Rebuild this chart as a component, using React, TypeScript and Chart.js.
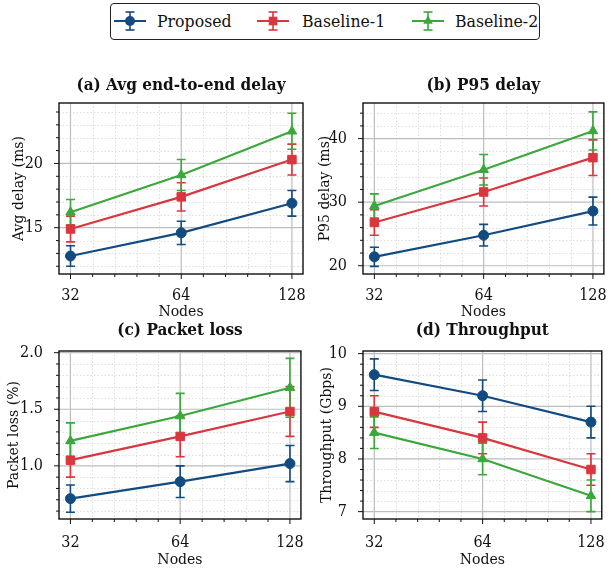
import React, { useEffect, useRef } from "react";
import { Chart, registerables } from "chart.js";

Chart.register(...registerables);

// ---------- data ----------
const nodes = [32, 64, 128];
const seriesNames = ["Proposed", "Baseline-1", "Baseline-2"];
const seriesColors = ["#114b80", "#d9363e", "#3aa83a"];
const seriesMarkers = ["circle", "rect", "triangle"];

const delayProposed = [12.8, 14.6, 16.9];
const delayProposedErr = [0.8, 0.9, 1.0];
const delayB1 = [14.9, 17.4, 20.3];
const delayB1Err = [1.0, 1.1, 1.2];
const delayB2 = [16.2, 19.1, 22.5];
const delayB2Err = [1.0, 1.2, 1.4];

const p95Proposed = [21.4, 24.8, 28.6];
const p95ProposedErr = [1.5, 1.7, 2.2];
const p95B1 = [26.8, 31.6, 37.0];
const p95B1Err = [2.0, 2.2, 2.8];
const p95B2 = [29.4, 35.1, 41.2];
const p95B2Err = [1.9, 2.4, 3.0];

const lossProposed = [0.71, 0.86, 1.02];
const lossProposedErr = [0.12, 0.14, 0.16];
const lossB1 = [1.05, 1.26, 1.48];
const lossB1Err = [0.15, 0.18, 0.22];
const lossB2 = [1.22, 1.44, 1.69];
const lossB2Err = [0.16, 0.2, 0.26];

const thrProposed = [9.6, 9.2, 8.7];
const thrProposedErr = [0.3, 0.3, 0.3];
const thrB1 = [8.9, 8.4, 7.8];
const thrB1Err = [0.3, 0.3, 0.3];
const thrB2 = [8.5, 8.0, 7.3];
const thrB2Err = [0.3, 0.3, 0.3];

const delayTicks = [15, 20];
const p95Ticks = [20, 30, 40];
const lossTicks = [1.0, 1.5, 2.0];
const thrTicks = [7, 8, 9, 10];

const FONT = "'DejaVu Serif Condensed', 'DejaVu Serif', serif";
const TICK_SIZE = 16;
const AXIS_SIZE = 15.6;
const TITLE_SIZE = 17;
const LEGEND_SIZE = 17.5;

type PanelSpec = {
  title: string;
  yLabel: string;
  values: number[][];
  errors: number[][];
  yTicks: number[];
  yMinor: number;
  yMin: number;
  yMax: number;
  decimals: number;
  left: number;
  top: number;
  width: number;
  height: number;
  padTop: number;
  padRight: number;
  yAxisWidth: number;
  xAxisHeight: number;
  titleY: number;
  xTickPad: number;
  xTitlePadBottom: number;
  yTitlePad: number;
};

const panels: PanelSpec[] = [
  {
    title: "(a) Avg end-to-end delay",
    yLabel: "Avg delay (ms)",
    values: [delayProposed, delayB1, delayB2],
    errors: [delayProposedErr, delayB1Err, delayB2Err],
    yTicks: delayTicks,
    yMinor: 1,
    yMin: 11.4,
    yMax: 24.7,
    decimals: 0,
    left: 0, top: 70, width: 310, height: 255,
    padTop: 33, padRight: 7, yAxisWidth: 59, xAxisHeight: 51,
    titleY: 15.5,
    xTickPad: 4, xTitlePadBottom: 3.5, yTitlePad: 9.5,
  },
  {
    title: "(b) P95 delay",
    yLabel: "P95 delay (ms)",
    values: [p95Proposed, p95B1, p95B2],
    errors: [p95ProposedErr, p95B1Err, p95B2Err],
    yTicks: p95Ticks,
    yMinor: 2,
    yMin: 18.7,
    yMax: 45.6,
    decimals: 0,
    left: 310, top: 70, width: 301, height: 255,
    padTop: 33, padRight: 7, yAxisWidth: 53, xAxisHeight: 51,
    titleY: 15.5,
    xTickPad: 4, xTitlePadBottom: 3.5, yTitlePad: 6,
  },
  {
    title: "(c) Packet loss",
    yLabel: "Packet loss (%)",
    values: [lossProposed, lossB1, lossB2],
    errors: [lossProposedErr, lossB1Err, lossB2Err],
    yTicks: lossTicks,
    yMinor: 0.1,
    yMin: 0.53,
    yMax: 2.015,
    decimals: 1,
    left: 0, top: 318, width: 310, height: 255,
    padTop: 33, padRight: 7, yAxisWidth: 59, xAxisHeight: 54,
    titleY: 12.5,
    xTickPad: 6, xTitlePadBottom: 3.5, yTitlePad: 5,
  },
  {
    title: "(d) Throughput",
    yLabel: "Throughput (Gbps)",
    values: [thrProposed, thrB1, thrB2],
    errors: [thrProposedErr, thrB1Err, thrB2Err],
    yTicks: thrTicks,
    yMinor: 0.2,
    yMin: 6.86,
    yMax: 10.05,
    decimals: 0,
    left: 310, top: 318, width: 301, height: 255,
    padTop: 33, padRight: 6, yAxisWidth: 53, xAxisHeight: 54,
    titleY: 12.5,
    xTickPad: 6, xTitlePadBottom: 3.5, yTitlePad: 8,
  },
];

const X_MIN = nodes[0] / Math.pow(2, 0.104);
const X_MAX = nodes[nodes.length - 1] * Math.pow(2, 0.1);
const X_MINOR_DIV = 5;

function xMinorValues(): number[] {
  const out: number[] = [];
  for (let i = 0; i < nodes.length - 1; i++) {
    const a = Math.log2(nodes[i]);
    const b = Math.log2(nodes[i + 1]);
    for (let k = 1; k < X_MINOR_DIV; k++) out.push(Math.pow(2, a + ((b - a) * k) / X_MINOR_DIV));
  }
  return out;
}

function yMinorValues(spec: PanelSpec): number[] {
  const out: number[] = [];
  const start = Math.ceil(spec.yMin / spec.yMinor - 1e-6);
  const end = Math.floor(spec.yMax / spec.yMinor + 1e-6);
  for (let k = start; k <= end; k++) {
    const v = k * spec.yMinor;
    if (!spec.yTicks.some((t) => Math.abs(t - v) < 1e-6)) out.push(v);
  }
  return out;
}

function makeDecorPlugin(spec: PanelSpec, errors: number[][]) {
  return {
    id: "decor",
    beforeDatasetsDraw(chart: any) {
      const { ctx, chartArea: ca, scales } = chart;
      const xs = scales.x;
      const ys = scales.y;
      ctx.save();
      ctx.beginPath();
      ctx.rect(ca.left, ca.top, ca.right - ca.left, ca.bottom - ca.top);
      ctx.clip();
      // minor grid
      ctx.strokeStyle = "#d6d6d6";
      ctx.lineWidth = 0.8;
      ctx.setLineDash([1.5, 2]);
      xMinorValues().forEach((v) => {
        const p = Math.round(xs.getPixelForValue(v)) + 0.5;
        ctx.beginPath();
        ctx.moveTo(p, ca.top);
        ctx.lineTo(p, ca.bottom);
        ctx.stroke();
      });
      yMinorValues(spec).forEach((v) => {
        const p = Math.round(ys.getPixelForValue(v)) + 0.5;
        ctx.beginPath();
        ctx.moveTo(ca.left, p);
        ctx.lineTo(ca.right, p);
        ctx.stroke();
      });
      // major grid
      ctx.setLineDash([]);
      ctx.strokeStyle = "#bdbdbd";
      ctx.lineWidth = 1.2;
      nodes.forEach((v) => {
        const p = xs.getPixelForValue(v);
        ctx.beginPath();
        ctx.moveTo(p, ca.top);
        ctx.lineTo(p, ca.bottom);
        ctx.stroke();
      });
      spec.yTicks.forEach((v) => {
        const p = ys.getPixelForValue(v);
        ctx.beginPath();
        ctx.moveTo(ca.left, p);
        ctx.lineTo(ca.right, p);
        ctx.stroke();
      });
      ctx.restore();

      // error bars
      ctx.save();
      chart.data.datasets.forEach((ds: any, di: number) => {
        ctx.strokeStyle = ds.borderColor;
        ctx.lineWidth = 1.6;
        ds.data.forEach((pt: any, i: number) => {
          const e = errors[di][i];
          const x = xs.getPixelForValue(pt.x);
          const y1 = ys.getPixelForValue(pt.y + e);
          const y2 = ys.getPixelForValue(pt.y - e);
          ctx.beginPath();
          ctx.moveTo(x, y1);
          ctx.lineTo(x, y2);
          ctx.moveTo(x - 4.5, y1);
          ctx.lineTo(x + 4.5, y1);
          ctx.moveTo(x - 4.5, y2);
          ctx.lineTo(x + 4.5, y2);
          ctx.stroke();
        });
      });
      ctx.restore();
    },
    afterDraw(chart: any) {
      const { ctx, chartArea: ca, scales } = chart;
      const xs = scales.x;
      const ys = scales.y;
      ctx.save();
      ctx.strokeStyle = "#111";
      ctx.lineWidth = 1;
      nodes.forEach((v) => {
        const p = xs.getPixelForValue(v);
        ctx.beginPath();
        ctx.moveTo(p, ca.bottom);
        ctx.lineTo(p, ca.bottom + 5);
        ctx.stroke();
      });
      xMinorValues().forEach((v) => {
        const p = xs.getPixelForValue(v);
        ctx.beginPath();
        ctx.moveTo(p, ca.bottom);
        ctx.lineTo(p, ca.bottom + 3);
        ctx.stroke();
      });
      spec.yTicks.forEach((v) => {
        const p = ys.getPixelForValue(v);
        ctx.beginPath();
        ctx.moveTo(ca.left, p);
        ctx.lineTo(ca.left - 5, p);
        ctx.stroke();
      });
      yMinorValues(spec).forEach((v) => {
        const p = ys.getPixelForValue(v);
        ctx.beginPath();
        ctx.moveTo(ca.left, p);
        ctx.lineTo(ca.left - 3, p);
        ctx.stroke();
      });
      ctx.lineWidth = 1.4;
      ctx.strokeRect(ca.left, ca.top, ca.right - ca.left, ca.bottom - ca.top);
      // panel title centred over the plot area
      ctx.fillStyle = "#111";
      ctx.font = `bold ${TITLE_SIZE}px ${FONT}`;
      ctx.textAlign = "center";
      ctx.textBaseline = "middle";
      ctx.fillText(spec.title, (ca.left + ca.right) / 2, spec.titleY);
      ctx.restore();
    },
  };
}

function Panel({ spec }: { spec: PanelSpec }) {
  const ref = useRef<HTMLCanvasElement | null>(null);
  useEffect(() => {
    if (!ref.current) return;
    const chart = new Chart(ref.current, {
      type: "line",
      data: {
        datasets: spec.values.map((vals, si) => ({
          label: seriesNames[si],
          data: nodes.map((n, i) => ({ x: n, y: vals[i] })),
          borderColor: seriesColors[si],
          backgroundColor: seriesColors[si],
          pointBackgroundColor: seriesColors[si],
          pointBorderColor: seriesColors[si],
          borderWidth: 2.2,
          pointStyle: seriesMarkers[si] as any,
          pointRadius: si === 0 ? 5 : si === 1 ? 6 : 5.5,
          pointBorderWidth: 1,
          tension: 0,
        })),
      },
      options: {
        responsive: false,
        animation: false,
        devicePixelRatio: 1,
        layout: { padding: { left: 0, right: spec.padRight, top: spec.padTop, bottom: 0 } },
        plugins: {
          legend: { display: false },
          tooltip: { enabled: false },
          title: { display: false },
        },
        scales: {
          x: {
            type: "logarithmic",
            min: X_MIN,
            max: X_MAX,
            grid: { display: false },
            border: { display: false },
            afterBuildTicks: (s: any) => {
              s.ticks = nodes.map((v) => ({ value: v, major: true }));
            },
            afterFit: (s: any) => {
              s.height = spec.xAxisHeight;
            },
            ticks: {
              color: "#111",
              font: { family: FONT, size: TICK_SIZE, lineHeight: 1.2 },
              padding: spec.xTickPad,
              maxRotation: 0,
              autoSkip: false,
              callback: (v: any) => String(v),
            },
            title: {
              display: true,
              text: "Nodes",
              color: "#111",
              font: { family: FONT, size: AXIS_SIZE, lineHeight: 1.2 },
              padding: { top: 0, bottom: spec.xTitlePadBottom },
            },
          },
          y: {
            type: "linear",
            min: spec.yMin,
            max: spec.yMax,
            grid: { display: false },
            border: { display: false },
            afterBuildTicks: (s: any) => {
              s.ticks = spec.yTicks.map((v) => ({ value: v }));
            },
            afterFit: (s: any) => {
              s.width = spec.yAxisWidth;
            },
            ticks: {
              color: "#111",
              font: { family: FONT, size: TICK_SIZE, lineHeight: 1.2 },
              padding: 8,
              callback: (v: any) => Number(v).toFixed(spec.decimals),
            },
            title: {
              display: true,
              text: spec.yLabel,
              color: "#111",
              font: { family: FONT, size: AXIS_SIZE, lineHeight: 1.2 },
              padding: { top: spec.yTitlePad, bottom: 0 },
            },
          },
        },
      },
      plugins: [makeDecorPlugin(spec, spec.errors)],
    } as any);
    return () => chart.destroy();
  }, [spec]);
  return (
    <canvas
      ref={ref}
      width={spec.width}
      height={spec.height}
      style={{ position: "absolute", left: spec.left, top: spec.top, width: spec.width, height: spec.height, display: "block" }}
    />
  );
}

function LegendHandle({ color, marker }: { color: string; marker: string }) {
  const cx = 16;
  const cy = 12;
  let shape: React.ReactNode = null;
  if (marker === "circle") shape = <circle cx={cx} cy={cy} r={5} fill={color} />;
  else if (marker === "rect") shape = <rect x={cx - 4.3} y={cy - 4.3} width={8.6} height={8.6} fill={color} />;
  else shape = <polygon points={`${cx},${cy - 5.5} ${cx + 4.8},${cy + 2.8} ${cx - 4.8},${cy + 2.8}`} fill={color} />;
  return (
    <svg width={32} height={24} style={{ position: "absolute", left: -16, top: -12 }}>
      <line x1={0} y1={cy} x2={32} y2={cy} stroke={color} strokeWidth={2} />
      <line x1={cx} y1={3} x2={cx} y2={21} stroke={color} strokeWidth={1.6} />
      <line x1={cx - 4.5} y1={3} x2={cx + 4.5} y2={3} stroke={color} strokeWidth={1.6} />
      <line x1={cx - 4.5} y1={21} x2={cx + 4.5} y2={21} stroke={color} strokeWidth={1.6} />
      {shape}
    </svg>
  );
}

const legendHandleX = [130, 273, 428];
const legendTextX = [157, 302, 455];

export default function App() {
  return (
    <div style={{ position: "fixed", left: 0, top: 0, width: 611, height: 573, background: "#fff", overflow: "hidden" }}>
      <div
        style={{
          position: "absolute",
          left: 110,
          top: 3,
          width: 430,
          height: 37,
          border: "1.5px solid #222",
          borderRadius: 4,
          boxSizing: "border-box",
        }}
      />
      {seriesNames.map((name, i) => (
        <React.Fragment key={name}>
          <div style={{ position: "absolute", left: legendHandleX[i], top: 21 }}>
            <LegendHandle color={seriesColors[i]} marker={seriesMarkers[i]} />
          </div>
          <div
            style={{
              position: "absolute",
              left: legendTextX[i],
              top: 10,
              fontFamily: FONT,
              fontSize: LEGEND_SIZE,
              lineHeight: "22px",
              color: "#111",
              whiteSpace: "nowrap",
            }}
          >
            {name}
          </div>
        </React.Fragment>
      ))}
      {panels.map((p) => (
        <Panel key={p.title} spec={p} />
      ))}
    </div>
  );
}
